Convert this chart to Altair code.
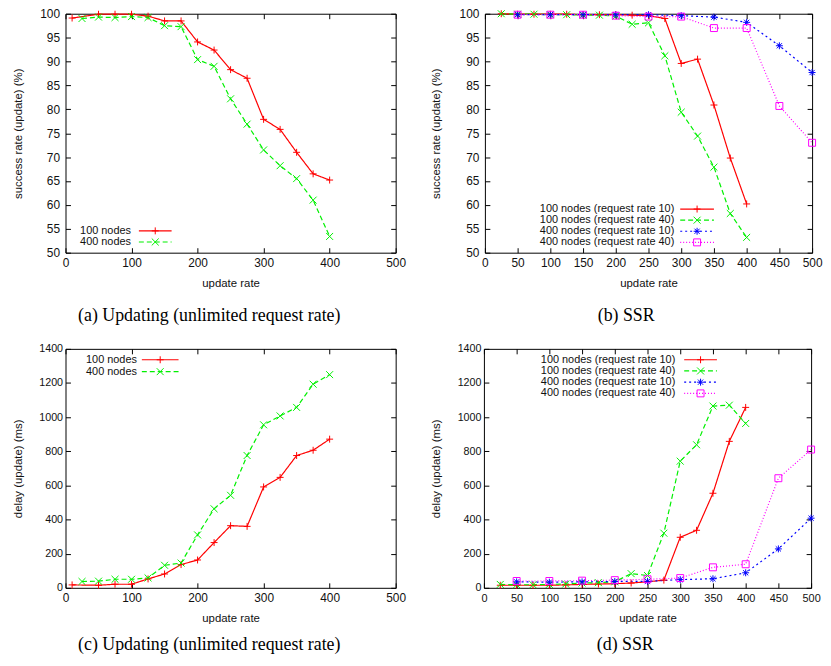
import altair as alt
import pandas as pd

# ---------------- data ----------------
# (a) success rate, unlimited request rate
a_x100 = [10, 50, 75, 100, 125, 150, 175, 200, 225, 250, 275, 300, 325, 350, 375, 400]
a_y100 = [99.1, 99.9, 99.9, 99.9, 99.5, 98.5, 98.5, 94.1, 92.4, 88.3, 86.5, 77.9, 75.8, 71.0, 66.5, 65.2]
a_x400 = [25, 50, 75, 100, 125, 150, 175, 200, 225, 250, 275, 300, 325, 350, 375, 400]
a_y400 = [99.0, 99.3, 99.2, 99.4, 99.2, 97.5, 97.3, 90.4, 89.0, 82.2, 76.9, 71.5, 68.2, 65.5, 61.0, 53.4]

# (b) success rate, SSR
b_x100 = [25, 50, 75, 100, 125, 150, 175, 200, 225, 250, 275, 300, 325, 350, 375, 400]
b_y100_10 = [100, 99.9, 99.9, 99.9, 99.9, 99.8, 99.8, 99.8, 99.7, 99.6, 99.0, 89.6, 90.5, 80.9, 69.8, 60.2]
b_y100_40 = [100, 99.9, 99.9, 99.8, 99.8, 99.7, 99.7, 99.5, 97.8, 98.1, 91.2, 79.4, 74.4, 67.9, 58.2, 53.2]
b_x400 = [50, 100, 150, 200, 250, 300, 350, 400, 450, 500]
b_y400_10 = [99.8, 99.8, 99.8, 99.8, 99.8, 99.6, 99.3, 98.2, 93.3, 87.7]
b_y400_40 = [99.8, 99.8, 99.8, 99.6, 99.4, 99.4, 97.0, 97.0, 80.7, 73.0]

# (c) delay, unlimited request rate
c_x100 = [10, 50, 75, 100, 125, 150, 175, 200, 225, 250, 275, 300, 325, 350, 375, 400]
c_y100 = [17, 15, 21, 21, 52, 81, 136, 163, 265, 364, 360, 591, 647, 775, 806, 871]
c_x400 = [25, 50, 75, 100, 125, 150, 175, 200, 225, 250, 275, 300, 325, 350, 375, 400]
c_y400 = [37, 39, 50, 50, 58, 132, 145, 310, 463, 542, 775, 955, 1007, 1057, 1193, 1249]

# (d) delay, SSR
d_x100 = [25, 50, 75, 100, 125, 150, 175, 200, 225, 250, 275, 300, 325, 350, 375, 400]
d_y100_10 = [15, 15, 15, 15, 17, 20, 22, 24, 28, 35, 45, 296, 337, 554, 858, 1057]
d_y100_40 = [20, 18, 18, 20, 22, 28, 30, 35, 83, 72, 320, 742, 838, 1065, 1070, 963]
d_x400 = [50, 100, 150, 200, 250, 300, 350, 400, 450, 500]
d_y400_10 = [35, 33, 35, 37, 38, 48, 53, 88, 228, 408]
d_y400_40 = [40, 40, 42, 45, 50, 57, 120, 138, 642, 810]

names_ab = ["100 nodes", "400 nodes"]
names_ssr = ["100 nodes (request rate 10)", "100 nodes (request rate 40)",
             "400 nodes (request rate 10)", "400 nodes (request rate 40)"]

x_ticks_100 = [0, 100, 200, 300, 400, 500]
x_ticks_50 = [0, 50, 100, 150, 200, 250, 300, 350, 400, 450, 500]
y_ticks_rate = [50, 55, 60, 65, 70, 75, 80, 85, 90, 95, 100]
y_ticks_delay = [0, 200, 400, 600, 800, 1000, 1200, 1400]

# ---------------- styles ----------------
RED, GREEN, BLUE, MAGENTA = "#ff0000", "#00f000", "#0000ff", "#ff00ff"
SOLID, DASH, DOT, FINE = [1, 0], [5, 3], [2, 3], [1, 2]
PLUS = "M-1,0L1,0M0,-1L0,1"
CROSS = "M-1,-1L1,1M-1,1L1,-1"
STAR = "M-1,0L1,0M0,-1L0,1M-0.75,-0.75L0.75,0.75M-0.75,0.75L0.75,-0.75"

ALL_NAMES = names_ab + names_ssr
ALL_COLORS = [RED, GREEN, RED, GREEN, BLUE, MAGENTA]
ALL_DASHES = [SOLID, DASH, SOLID, DASH, DOT, FINE]
ALL_SHAPES = [PLUS, CROSS, PLUS, CROSS, STAR, "square"]

cscale = alt.Scale(domain=ALL_NAMES, range=ALL_COLORS)
dscale = alt.Scale(domain=ALL_NAMES, range=ALL_DASHES)
sscale = alt.Scale(domain=ALL_NAMES, range=ALL_SHAPES)

SANS = "Liberation Sans"
TICK = 5


def panel(series, xticks, ydomain, yticks, ytitle, caption, w, h,
          leg_tx, leg_x1, leg_x2, leg_y0, leg_dy, ytpad, ylpad, xfs, yfs, cap_off):
    names = [s[0] for s in series]
    n = len(names)
    df = pd.concat([pd.DataFrame({"x": xs, "y": ys, "series": nm}) for nm, xs, ys in series],
                   ignore_index=True)
    leg = pd.DataFrame({"series": names, "row": list(range(n))})

    xs = alt.Scale(domain=[0, 500], nice=False, zero=False)
    ys = alt.Scale(domain=ydomain, nice=False, zero=False)

    xaxis = alt.Axis(orient="bottom", values=xticks, offset=-TICK, tickSize=TICK, domain=False,
                     labelPadding=5, labelFontSize=xfs, title="update rate", titlePadding=9,
                     labelFlush=False, labelOverlap=False, format="d")
    yaxis = alt.Axis(orient="left", values=yticks, offset=-TICK, tickSize=TICK, domain=False,
                     labelPadding=ylpad, labelFontSize=yfs, title=ytitle, titlePadding=ytpad,
                     format="d")
    xtop = alt.Axis(orient="top", values=xticks, offset=-TICK, tickSize=TICK, domain=False,
                    labels=False, title=None)
    yright = alt.Axis(orient="right", values=yticks, offset=-TICK, tickSize=TICK, domain=False,
                      labels=False, title=None)

    base = alt.Chart(df)
    lines = base.mark_line(strokeWidth=1.2, clip=False).encode(
        x=alt.X("x:Q", scale=xs, axis=xaxis),
        y=alt.Y("y:Q", scale=ys, axis=yaxis),
        color=alt.Color("series:N", scale=cscale, legend=None),
        strokeDash=alt.StrokeDash("series:N", scale=dscale, legend=None),
    )
    pts = base.mark_point(filled=False, size=49, strokeWidth=1, opacity=1, clip=False).encode(
        x=alt.X("x:Q", scale=xs, axis=None),
        y=alt.Y("y:Q", scale=ys, axis=None),
        color=alt.Color("series:N", scale=cscale, legend=None),
        shape=alt.Shape("series:N", scale=sscale, legend=None),
    )
    mirror = base.mark_point(opacity=0).encode(
        x=alt.X("x:Q", scale=xs, axis=xtop),
        y=alt.Y("y:Q", scale=ys, axis=yright),
    )

    lbase = alt.Chart(leg).transform_calculate(py=f"{leg_y0} + datum.row * {leg_dy}")
    ltext = lbase.mark_text(align="right", baseline="middle", font=SANS, fontSize=11,
                            color="#111").encode(
        x=alt.value(leg_tx), y=alt.Y("py:Q", scale=None), text="series:N")
    lrule = lbase.mark_rule(strokeWidth=1.2).encode(
        x=alt.value(leg_x1), x2=alt.value(leg_x2), y=alt.Y("py:Q", scale=None),
        color=alt.Color("series:N", scale=cscale, legend=None),
        strokeDash=alt.StrokeDash("series:N", scale=dscale, legend=None),
    )
    lpt = lbase.mark_point(filled=False, size=49, strokeWidth=1, opacity=1).encode(
        x=alt.value((leg_x1 + leg_x2) / 2), y=alt.Y("py:Q", scale=None),
        color=alt.Color("series:N", scale=cscale, legend=None),
        shape=alt.Shape("series:N", scale=sscale, legend=None),
    )

    return alt.layer(lines, pts, mirror, lrule, lpt, ltext).properties(
        width=w, height=h,
        title=alt.TitleParams(caption, orient="bottom", anchor="middle", frame="bounds",
                              font="Liberation Serif", fontSize=18, fontWeight="normal",
                              color="black", offset=cap_off),
    )


pa = panel([(names_ab[0], a_x100, a_y100), (names_ab[1], a_x400, a_y400)],
           x_ticks_100, [50, 100], y_ticks_rate, "success rate (update) (%)",
           "(a) Updating (unlimited request rate)", 333, 241,
           66, 74, 107, 219, 11.2, 16, 6, 12, 12, 18)
pb = panel([(names_ssr[0], b_x100, b_y100_10), (names_ssr[1], b_x100, b_y100_40),
            (names_ssr[2], b_x400, b_y400_10), (names_ssr[3], b_x400, b_y400_40)],
           x_ticks_50, [50, 100], y_ticks_rate, "success rate (update) (%)",
           "(b) SSR", 330, 241,
           191, 197, 231, 197, 11.2, 18, 6, 12, 12, 18)
pc = panel([(names_ab[0], c_x100, c_y100), (names_ab[1], c_x400, c_y400)],
           x_ticks_100, [0, 1400], y_ticks_delay, "delay (update) (ms)",
           "(c) Updating (unlimited request rate)", 333, 241,
           72, 77, 114, 11, 12, 15, 3, 12, 10.8, 12)
pd_ = panel([(names_ssr[0], d_x100, d_y100_10), (names_ssr[1], d_x100, d_y100_40),
             (names_ssr[2], d_x400, d_y400_10), (names_ssr[3], d_x400, d_y400_40)],
            x_ticks_50, [0, 1400], y_ticks_delay, "delay (update) (ms)",
            "(d) SSR", 330, 241,
            193, 202, 235, 11, 11.3, 16, 3, 11, 10.8, 12)

chart = alt.concat(
    pa, pb, pc, pd_, columns=2, align="none",
    spacing={"row": 17, "column": 23},
).properties(padding={"left": 4, "top": -4, "right": 0, "bottom": 0}).configure_view(
    stroke="black", strokeWidth=1
).configure_axis(
    labelFont=SANS, labelFontSize=12, labelColor="#111",
    titleFont=SANS, titleFontSize=11.5, titleFontWeight="normal", titleColor="#111",
    tickColor="black", tickWidth=1, grid=False,
)

chart.save("out.html", embed_options={"renderer": "svg", "actions": False})
